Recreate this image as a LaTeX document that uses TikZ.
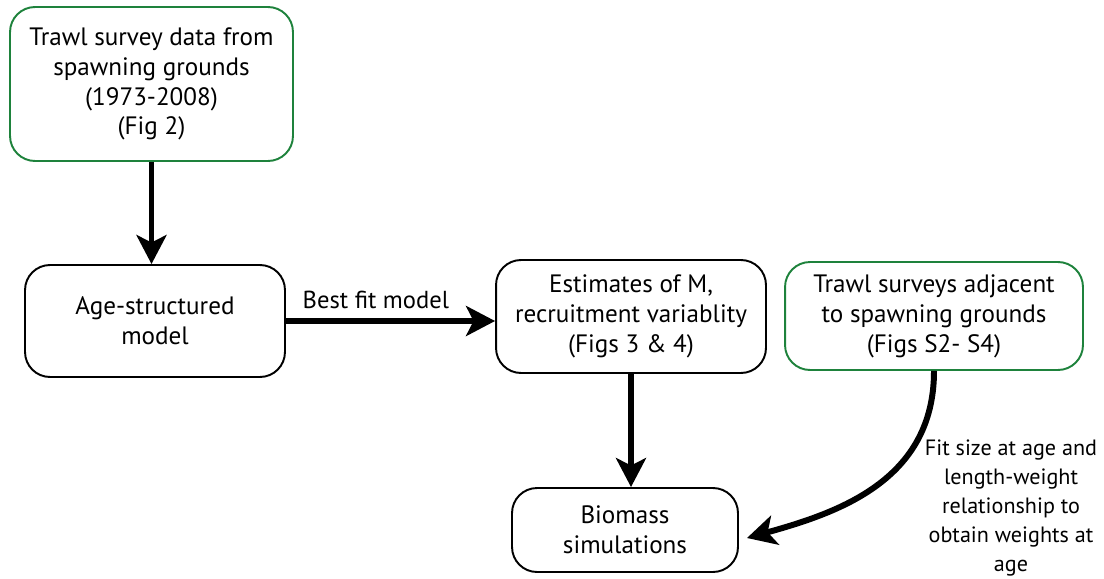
\documentclass[tikz,border=0pt]{standalone}
\usepackage{fontspec}
\setmainfont{PT Sans}
\usetikzlibrary{arrows.meta}
\definecolor{boxgreen}{RGB}{30,130,60}
\tikzset{
  box/.style={draw,line width=1.1pt,rounded corners=0.5cm,align=center,inner sep=0pt,font=\fontsize{14.3}{17}\selectfont},
  srcbox/.style={box,draw=boxgreen},
  flow/.style={line width=3.4pt,-{Stealth[length=0.58cm,width=0.6cm,inset=0.15cm]}},
}
\begin{document}
\begin{tikzpicture}[x=0.02cm,y=-0.02cm]
        \useasboundingbox (0,0) rectangle (1104,578);
        \node[srcbox,minimum width=5.66cm,minimum height=3.08cm](trawl) at (151.5,84) {Trawl survey data from\\spawning grounds\\(1973-2008)\\(Fig 2)};
        \node[box,minimum width=5.2cm,minimum height=2.24cm](age) at (155,321) {Age-structured\\model};
        \node[box,minimum width=5.4cm,minimum height=2.26cm](est) at (631,316.5) {Estimates of M,\\recruitment variablity\\(Figs 3 \& 4)};
        \node[box,minimum width=4.52cm,minimum height=1.68cm](bio) at (625,530) {Biomass\\simulations};
        \node[srcbox,minimum width=5.96cm,minimum height=2.16cm](adj) at (934,316) {Trawl surveys adjacent\\to spawning grounds\\(Figs S2- S4)};
        \draw[flow](trawl.south) -- (trawl.south |- age.north);
        \draw[flow](age.east) -- (age.east -| est.west)node[pos=0.43,above=2pt,font=\fontsize{14}{17}\selectfont]{Best fit model};
        \draw[flow](est.south) -- (est.south |- bio.north);
        \draw[flow](adj.south) .. controls +(0,110) and +(90,-25) .. ([xshift=0.16cm,yshift=-0.16cm]bio.east);
        \node[align=center,font=\fontsize{12.6}{16.5}\selectfont](fitlbl) at (1011,508) {Fit size at age and\\length-weight\\relationship to\\obtain weights at\\age};
    \end{tikzpicture}
\end{document}
